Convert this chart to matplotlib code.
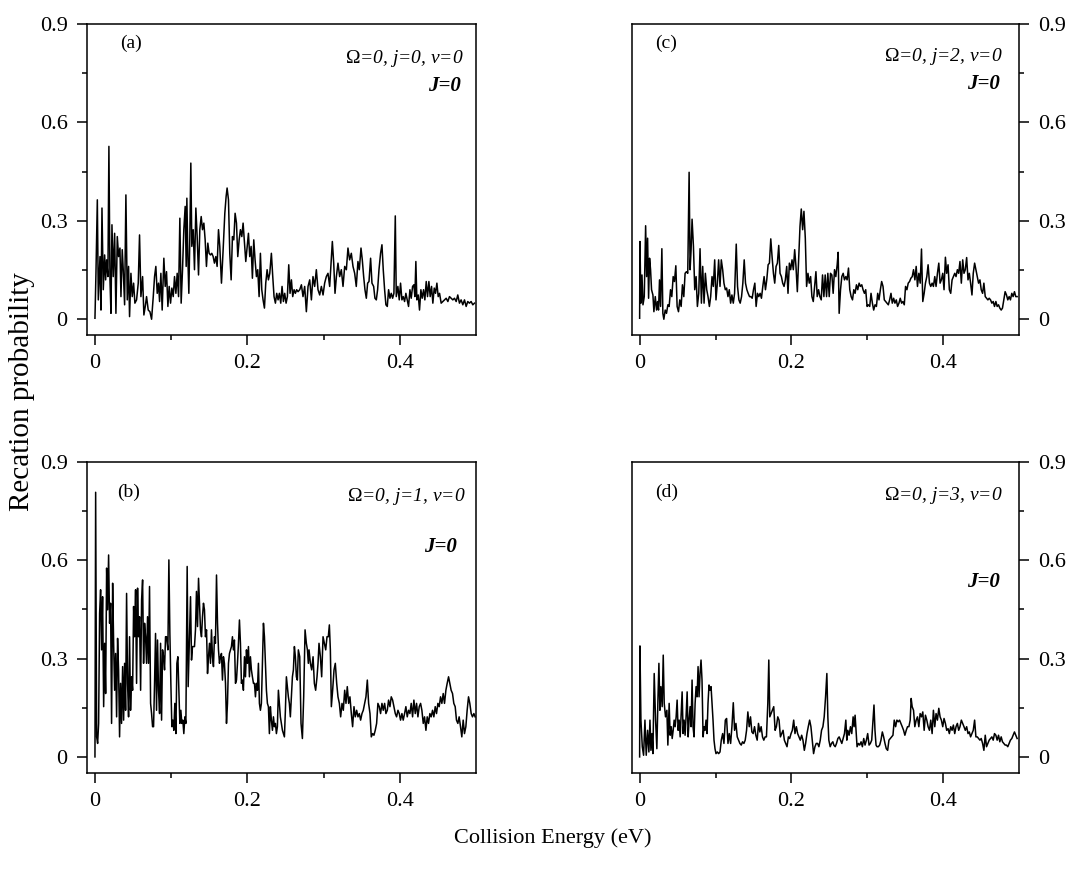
import numpy as np
import matplotlib.pyplot as plt

plt.rcParams['font.family'] = ['Liberation Serif', 'DejaVu Serif']
plt.rcParams['mathtext.fontset'] = 'custom'
plt.rcParams['mathtext.rm'] = 'Liberation Serif'
plt.rcParams['mathtext.it'] = 'Liberation Serif:italic'

# ---- panel (a): Omega=0, j=0, v=0 ----
e_a = [0.0000, 0.0013, 0.0031, 0.0044, 0.0066, 0.0079, 0.0092, 0.0109, 0.0127, 0.0140,
       0.0153, 0.0170, 0.0183, 0.0197, 0.0210, 0.0223, 0.0240, 0.0258, 0.0275, 0.0293,
       0.0310, 0.0328, 0.0341, 0.0358, 0.0371, 0.0389, 0.0406, 0.0424, 0.0441, 0.0454,
       0.0472, 0.0489, 0.0507, 0.0524, 0.0546, 0.0568, 0.0585, 0.0603, 0.0625, 0.0642,
       0.0660, 0.0677, 0.0699, 0.0721, 0.0743, 0.0765, 0.0782, 0.0799, 0.0817, 0.0834,
       0.0848, 0.0865, 0.0882, 0.0904, 0.0922, 0.0939, 0.0957, 0.0974, 0.0992, 0.1009,
       0.1027, 0.1044, 0.1062, 0.1079, 0.1097, 0.1114, 0.1131, 0.1149, 0.1166, 0.1184,
       0.1197, 0.1206, 0.1219, 0.1232, 0.1245, 0.1258, 0.1271, 0.1289, 0.1306, 0.1324,
       0.1341, 0.1359, 0.1376, 0.1394, 0.1411, 0.1429, 0.1446, 0.1463, 0.1481, 0.1498,
       0.1516, 0.1533, 0.1551, 0.1568, 0.1586, 0.1603, 0.1621, 0.1638, 0.1660, 0.1682,
       0.1704, 0.1721, 0.1734, 0.1752, 0.1769, 0.1787, 0.1804, 0.1822, 0.1839, 0.1857,
       0.1874, 0.1892, 0.1909, 0.1927, 0.1944, 0.1962, 0.1979, 0.1997, 0.2014, 0.2031,
       0.2049, 0.2066, 0.2084, 0.2101, 0.2119, 0.2136, 0.2154, 0.2171, 0.2189, 0.2206,
       0.2224, 0.2241, 0.2259, 0.2276, 0.2294, 0.2315, 0.2333, 0.2350, 0.2368, 0.2385,
       0.2403, 0.2420, 0.2438, 0.2455, 0.2473, 0.2490, 0.2508, 0.2525, 0.2543, 0.2560,
       0.2578, 0.2595, 0.2613, 0.2630, 0.2647, 0.2665, 0.2687, 0.2709, 0.2730, 0.2752,
       0.2774, 0.2796, 0.2818, 0.2840, 0.2861, 0.2883, 0.2905, 0.2927, 0.2949, 0.2971,
       0.2993, 0.3014, 0.3036, 0.3058, 0.3080, 0.3098, 0.3115, 0.3133, 0.3150, 0.3168,
       0.3189, 0.3211, 0.3233, 0.3255, 0.3277, 0.3299, 0.3320, 0.3342, 0.3364, 0.3386,
       0.3408, 0.3429, 0.3451, 0.3469, 0.3491, 0.3508, 0.3526, 0.3543, 0.3561, 0.3578,
       0.3596, 0.3617, 0.3635, 0.3657, 0.3674, 0.3692, 0.3709, 0.3727, 0.3748, 0.3766,
       0.3783, 0.3801, 0.3818, 0.3836, 0.3853, 0.3871, 0.3888, 0.3906, 0.3923, 0.3941,
       0.3954, 0.3975, 0.3993, 0.4010, 0.4028, 0.4045, 0.4063, 0.4080, 0.4098, 0.4115,
       0.4133, 0.4150, 0.4168, 0.4185, 0.4198, 0.4211, 0.4224, 0.4242, 0.4259, 0.4277,
       0.4294, 0.4312, 0.4329, 0.4347, 0.4364, 0.4382, 0.4399, 0.4417, 0.4434, 0.4452,
       0.4469, 0.4487, 0.4504, 0.4522, 0.4543, 0.4565, 0.4587, 0.4609, 0.4631, 0.4652,
       0.4674, 0.4696, 0.4718, 0.4740, 0.4761, 0.4783, 0.4805, 0.4827, 0.4849, 0.4871,
       0.4892, 0.4914, 0.4936, 0.4958, 0.4980]
p_a = [0.003, 0.140, 0.364, 0.059, 0.191, 0.028, 0.339, 0.090, 0.196, 0.120,
       0.181, 0.130, 0.527, 0.120, 0.018, 0.288, 0.130, 0.262, 0.018, 0.252,
       0.191, 0.217, 0.069, 0.212, 0.151, 0.044, 0.379, 0.059, 0.161, 0.008,
       0.140, 0.069, 0.110, 0.049, 0.059, 0.110, 0.257, 0.069, 0.130, 0.013,
       0.039, 0.069, 0.028, 0.023, 0.000, 0.069, 0.130, 0.161, 0.079, 0.110,
       0.054, 0.140, 0.028, 0.186, 0.100, 0.145, 0.039, 0.100, 0.049, 0.095,
       0.069, 0.130, 0.079, 0.140, 0.069, 0.308, 0.049, 0.151, 0.273, 0.344,
       0.161, 0.369, 0.191, 0.079, 0.252, 0.476, 0.222, 0.273, 0.151, 0.339,
       0.252, 0.135, 0.273, 0.313, 0.273, 0.293, 0.242, 0.161, 0.232, 0.201,
       0.196, 0.201, 0.191, 0.171, 0.191, 0.161, 0.273, 0.222, 0.110, 0.212,
       0.323, 0.374, 0.400, 0.364, 0.201, 0.120, 0.252, 0.242, 0.323, 0.293,
       0.191, 0.242, 0.273, 0.252, 0.293, 0.232, 0.176, 0.222, 0.262, 0.191,
       0.222, 0.125, 0.242, 0.181, 0.130, 0.151, 0.069, 0.201, 0.090, 0.059,
       0.034, 0.110, 0.151, 0.120, 0.140, 0.201, 0.130, 0.069, 0.049, 0.079,
       0.059, 0.079, 0.049, 0.100, 0.054, 0.079, 0.049, 0.069, 0.166, 0.079,
       0.120, 0.069, 0.090, 0.079, 0.090, 0.084, 0.090, 0.105, 0.069, 0.100,
       0.023, 0.100, 0.120, 0.059, 0.130, 0.100, 0.151, 0.090, 0.074, 0.100,
       0.074, 0.110, 0.130, 0.140, 0.100, 0.171, 0.237, 0.171, 0.079, 0.130,
       0.171, 0.130, 0.151, 0.100, 0.161, 0.151, 0.217, 0.181, 0.201, 0.161,
       0.140, 0.100, 0.176, 0.151, 0.217, 0.181, 0.130, 0.090, 0.064, 0.110,
       0.115, 0.186, 0.110, 0.100, 0.064, 0.059, 0.090, 0.151, 0.201, 0.227,
       0.151, 0.090, 0.044, 0.039, 0.090, 0.064, 0.079, 0.064, 0.079, 0.315,
       0.069, 0.100, 0.059, 0.110, 0.059, 0.069, 0.054, 0.079, 0.059, 0.039,
       0.090, 0.064, 0.100, 0.105, 0.069, 0.176, 0.059, 0.074, 0.028, 0.090,
       0.064, 0.090, 0.059, 0.115, 0.069, 0.115, 0.069, 0.100, 0.049, 0.095,
       0.079, 0.110, 0.069, 0.079, 0.049, 0.054, 0.059, 0.064, 0.054, 0.069,
       0.064, 0.059, 0.064, 0.054, 0.074, 0.049, 0.059, 0.044, 0.059, 0.039,
       0.054, 0.049, 0.054, 0.044, 0.049]

# ---- panel (b): Omega=0, j=1, v=0 ----
e_b = [0.0000, 0.0009, 0.0022, 0.0035, 0.0048, 0.0061, 0.0074, 0.0087, 0.0100, 0.0114,
       0.0127, 0.0140, 0.0153, 0.0166, 0.0179, 0.0192, 0.0205, 0.0218, 0.0232, 0.0245,
       0.0258, 0.0271, 0.0284, 0.0297, 0.0310, 0.0323, 0.0336, 0.0349, 0.0363, 0.0376,
       0.0389, 0.0402, 0.0415, 0.0428, 0.0441, 0.0454, 0.0467, 0.0481, 0.0494, 0.0507,
       0.0520, 0.0533, 0.0546, 0.0559, 0.0572, 0.0585, 0.0599, 0.0612, 0.0625, 0.0638,
       0.0651, 0.0664, 0.0677, 0.0690, 0.0703, 0.0716, 0.0730, 0.0743, 0.0756, 0.0769,
       0.0782, 0.0795, 0.0808, 0.0821, 0.0834, 0.0848, 0.0861, 0.0874, 0.0887, 0.0900,
       0.0913, 0.0926, 0.0939, 0.0957, 0.0970, 0.0983, 0.0996, 0.1009, 0.1022, 0.1035,
       0.1048, 0.1062, 0.1075, 0.1088, 0.1101, 0.1114, 0.1127, 0.1140, 0.1153, 0.1166,
       0.1180, 0.1193, 0.1210, 0.1223, 0.1236, 0.1254, 0.1267, 0.1280, 0.1293, 0.1306,
       0.1319, 0.1332, 0.1346, 0.1359, 0.1372, 0.1385, 0.1398, 0.1411, 0.1424, 0.1437,
       0.1450, 0.1464, 0.1477, 0.1490, 0.1503, 0.1516, 0.1529, 0.1542, 0.1555, 0.1568,
       0.1581, 0.1595, 0.1608, 0.1621, 0.1634, 0.1647, 0.1660, 0.1673, 0.1686, 0.1699,
       0.1713, 0.1726, 0.1739, 0.1752, 0.1765, 0.1778, 0.1791, 0.1804, 0.1817, 0.1830,
       0.1844, 0.1857, 0.1870, 0.1883, 0.1896, 0.1909, 0.1922, 0.1935, 0.1948, 0.1962,
       0.1975, 0.1988, 0.2001, 0.2014, 0.2027, 0.2040, 0.2053, 0.2066, 0.2080, 0.2093,
       0.2106, 0.2119, 0.2132, 0.2145, 0.2158, 0.2171, 0.2184, 0.2197, 0.2211, 0.2224,
       0.2237, 0.2250, 0.2263, 0.2276, 0.2289, 0.2302, 0.2315, 0.2329, 0.2342, 0.2355,
       0.2368, 0.2381, 0.2394, 0.2407, 0.2420, 0.2433, 0.2446, 0.2460, 0.2473, 0.2486,
       0.2499, 0.2512, 0.2525, 0.2538, 0.2551, 0.2564, 0.2578, 0.2591, 0.2604, 0.2617,
       0.2630, 0.2643, 0.2656, 0.2669, 0.2687, 0.2704, 0.2722, 0.2739, 0.2757, 0.2774,
       0.2788, 0.2800, 0.2809, 0.2827, 0.2844, 0.2862, 0.2879, 0.2896, 0.2914, 0.2927,
       0.2940, 0.2958, 0.2975, 0.2993, 0.3010, 0.3028, 0.3045, 0.3062, 0.3076, 0.3089,
       0.3102, 0.3119, 0.3137, 0.3154, 0.3172, 0.3189, 0.3207, 0.3224, 0.3242, 0.3259,
       0.3277, 0.3294, 0.3311, 0.3329, 0.3346, 0.3364, 0.3381, 0.3399, 0.3416, 0.3434,
       0.3451, 0.3469, 0.3486, 0.3504, 0.3521, 0.3539, 0.3556, 0.3574, 0.3591, 0.3609,
       0.3626, 0.3644, 0.3661, 0.3678, 0.3696, 0.3713, 0.3731, 0.3748, 0.3766, 0.3783,
       0.3801, 0.3818, 0.3836, 0.3853, 0.3871, 0.3888, 0.3906, 0.3923, 0.3941, 0.3958,
       0.3976, 0.3993, 0.4010, 0.4028, 0.4045, 0.4063, 0.4080, 0.4098, 0.4115, 0.4133,
       0.4150, 0.4168, 0.4185, 0.4203, 0.4220, 0.4238, 0.4255, 0.4273, 0.4290, 0.4308,
       0.4325, 0.4343, 0.4360, 0.4377, 0.4395, 0.4412, 0.4430, 0.4447, 0.4465, 0.4482,
       0.4500, 0.4517, 0.4535, 0.4552, 0.4570, 0.4587, 0.4605, 0.4622, 0.4640, 0.4657,
       0.4674, 0.4692, 0.4709, 0.4727, 0.4744, 0.4762, 0.4779, 0.4797, 0.4814, 0.4832,
       0.4849, 0.4867, 0.4884, 0.4902, 0.4919, 0.4937, 0.4954, 0.4972, 0.4989]
p_b = [0.001, 0.807, 0.062, 0.042, 0.103, 0.438, 0.510, 0.327, 0.489, 0.154,
       0.347, 0.194, 0.576, 0.449, 0.616, 0.408, 0.469, 0.103, 0.530, 0.347,
       0.204, 0.316, 0.123, 0.362, 0.266, 0.062, 0.225, 0.103, 0.276, 0.113,
       0.286, 0.143, 0.499, 0.225, 0.123, 0.367, 0.143, 0.245, 0.204, 0.459,
       0.367, 0.510, 0.225, 0.515, 0.367, 0.428, 0.204, 0.479, 0.540, 0.286,
       0.408, 0.367, 0.286, 0.428, 0.286, 0.520, 0.164, 0.133, 0.093, 0.093,
       0.225, 0.377, 0.143, 0.357, 0.204, 0.133, 0.347, 0.113, 0.327, 0.306,
       0.266, 0.367, 0.367, 0.327, 0.601, 0.377, 0.225, 0.093, 0.113, 0.082,
       0.164, 0.072, 0.286, 0.306, 0.204, 0.103, 0.143, 0.103, 0.113, 0.072,
       0.123, 0.103, 0.581, 0.215, 0.327, 0.489, 0.296, 0.337, 0.337, 0.337,
       0.388, 0.505, 0.398, 0.545, 0.469, 0.388, 0.367, 0.428, 0.469, 0.449,
       0.367, 0.388, 0.255, 0.306, 0.347, 0.286, 0.388, 0.306, 0.276, 0.367,
       0.347, 0.555, 0.408, 0.327, 0.286, 0.306, 0.316, 0.235, 0.306, 0.286,
       0.225, 0.103, 0.164, 0.286, 0.316, 0.327, 0.337, 0.367, 0.327, 0.357,
       0.225, 0.235, 0.286, 0.347, 0.418, 0.347, 0.225, 0.235, 0.204, 0.306,
       0.245, 0.327, 0.286, 0.337, 0.245, 0.306, 0.266, 0.245, 0.225, 0.225,
       0.184, 0.225, 0.204, 0.286, 0.164, 0.143, 0.164, 0.276, 0.408, 0.367,
       0.286, 0.204, 0.164, 0.154, 0.072, 0.154, 0.113, 0.082, 0.123, 0.093,
       0.103, 0.072, 0.093, 0.204, 0.164, 0.123, 0.103, 0.082, 0.072, 0.062,
       0.143, 0.245, 0.215, 0.184, 0.164, 0.123, 0.184, 0.245, 0.266, 0.337,
       0.306, 0.245, 0.235, 0.327, 0.306, 0.103, 0.057, 0.184, 0.388, 0.347,
       0.327, 0.286, 0.327, 0.286, 0.266, 0.306, 0.225, 0.204, 0.245, 0.286,
       0.347, 0.306, 0.245, 0.367, 0.347, 0.327, 0.367, 0.367, 0.403, 0.327,
       0.154, 0.204, 0.266, 0.286, 0.225, 0.184, 0.164, 0.123, 0.164, 0.143,
       0.204, 0.164, 0.215, 0.164, 0.184, 0.133, 0.093, 0.154, 0.123, 0.143,
       0.123, 0.133, 0.113, 0.133, 0.143, 0.164, 0.184, 0.235, 0.164, 0.133,
       0.062, 0.072, 0.067, 0.082, 0.103, 0.164, 0.154, 0.133, 0.164, 0.143,
       0.164, 0.133, 0.143, 0.174, 0.154, 0.184, 0.174, 0.154, 0.133, 0.123,
       0.143, 0.133, 0.113, 0.133, 0.113, 0.133, 0.154, 0.123, 0.143, 0.133,
       0.164, 0.123, 0.174, 0.133, 0.164, 0.123, 0.154, 0.164, 0.143, 0.103,
       0.123, 0.082, 0.123, 0.103, 0.133, 0.123, 0.143, 0.123, 0.154, 0.133,
       0.164, 0.154, 0.184, 0.164, 0.194, 0.164, 0.204, 0.225, 0.245, 0.225,
       0.204, 0.194, 0.164, 0.154, 0.113, 0.103, 0.123, 0.093, 0.062, 0.113,
       0.072, 0.093, 0.143, 0.184, 0.164, 0.133, 0.123, 0.133, 0.123]

# ---- panel (c): Omega=0, j=2, v=0 ----
e_c = [0.0000, 0.0004, 0.0017, 0.0031, 0.0044, 0.0061, 0.0079, 0.0092, 0.0105, 0.0118,
       0.0131, 0.0144, 0.0157, 0.0175, 0.0188, 0.0206, 0.0223, 0.0236, 0.0249, 0.0262,
       0.0276, 0.0293, 0.0306, 0.0319, 0.0337, 0.0354, 0.0372, 0.0389, 0.0407, 0.0424,
       0.0442, 0.0459, 0.0477, 0.0494, 0.0512, 0.0529, 0.0547, 0.0564, 0.0582, 0.0599,
       0.0617, 0.0634, 0.0652, 0.0665, 0.0678, 0.0691, 0.0709, 0.0726, 0.0744, 0.0761,
       0.0779, 0.0796, 0.0814, 0.0831, 0.0849, 0.0866, 0.0884, 0.0901, 0.0919, 0.0936,
       0.0954, 0.0971, 0.0989, 0.1006, 0.1024, 0.1041, 0.1059, 0.1076, 0.1094, 0.1111,
       0.1129, 0.1146, 0.1164, 0.1181, 0.1199, 0.1216, 0.1234, 0.1251, 0.1273, 0.1290,
       0.1308, 0.1325, 0.1343, 0.1360, 0.1378, 0.1395, 0.1413, 0.1430, 0.1448, 0.1465,
       0.1483, 0.1500, 0.1518, 0.1535, 0.1553, 0.1570, 0.1588, 0.1605, 0.1623, 0.1640,
       0.1658, 0.1675, 0.1693, 0.1710, 0.1728, 0.1745, 0.1763, 0.1780, 0.1798, 0.1815,
       0.1833, 0.1850, 0.1868, 0.1885, 0.1903, 0.1920, 0.1938, 0.1955, 0.1973, 0.1990,
       0.2008, 0.2025, 0.2043, 0.2060, 0.2078, 0.2095, 0.2113, 0.2130, 0.2148, 0.2165,
       0.2183, 0.2200, 0.2218, 0.2235, 0.2253, 0.2270, 0.2288, 0.2305, 0.2323, 0.2340,
       0.2358, 0.2375, 0.2393, 0.2410, 0.2428, 0.2445, 0.2463, 0.2480, 0.2498, 0.2515,
       0.2533, 0.2550, 0.2568, 0.2585, 0.2603, 0.2616, 0.2629, 0.2647, 0.2664, 0.2682,
       0.2699, 0.2717, 0.2734, 0.2752, 0.2769, 0.2787, 0.2805, 0.2822, 0.2839, 0.2857,
       0.2874, 0.2892, 0.2909, 0.2927, 0.2944, 0.2962, 0.2979, 0.2997, 0.3014, 0.3032,
       0.3049, 0.3067, 0.3084, 0.3102, 0.3120, 0.3137, 0.3154, 0.3172, 0.3189, 0.3207,
       0.3224, 0.3242, 0.3259, 0.3277, 0.3294, 0.3312, 0.3329, 0.3347, 0.3364, 0.3382,
       0.3399, 0.3417, 0.3434, 0.3452, 0.3469, 0.3487, 0.3504, 0.3522, 0.3539, 0.3557,
       0.3574, 0.3592, 0.3609, 0.3627, 0.3644, 0.3661, 0.3679, 0.3697, 0.3714, 0.3731,
       0.3749, 0.3766, 0.3784, 0.3801, 0.3819, 0.3836, 0.3854, 0.3871, 0.3889, 0.3906,
       0.3924, 0.3942, 0.3959, 0.3976, 0.3994, 0.4011, 0.4029, 0.4046, 0.4064, 0.4081,
       0.4099, 0.4117, 0.4134, 0.4152, 0.4169, 0.4187, 0.4204, 0.4221, 0.4239, 0.4257,
       0.4274, 0.4291, 0.4309, 0.4327, 0.4344, 0.4361, 0.4379, 0.4396, 0.4414, 0.4431,
       0.4449, 0.4466, 0.4484, 0.4501, 0.4519, 0.4536, 0.4554, 0.4571, 0.4589, 0.4606,
       0.4624, 0.4641, 0.4659, 0.4676, 0.4694, 0.4711, 0.4729, 0.4746, 0.4764, 0.4781,
       0.4799, 0.4816, 0.4834, 0.4851, 0.4869, 0.4886, 0.4904, 0.4921, 0.4939, 0.4956,
       0.4974]
p_c = [0.003, 0.237, 0.049, 0.135, 0.044, 0.069, 0.285, 0.130, 0.247, 0.064,
       0.186, 0.151, 0.090, 0.074, 0.023, 0.069, 0.028, 0.054, 0.028, 0.120,
       0.039, 0.215, 0.018, 0.000, 0.028, 0.018, 0.044, 0.039, 0.090, 0.069,
       0.130, 0.115, 0.163, 0.039, 0.023, 0.059, 0.039, 0.105, 0.069, 0.140,
       0.145, 0.140, 0.448, 0.151, 0.212, 0.305, 0.222, 0.090, 0.130, 0.039,
       0.079, 0.215, 0.049, 0.161, 0.049, 0.140, 0.090, 0.069, 0.039, 0.069,
       0.130, 0.100, 0.181, 0.059, 0.110, 0.181, 0.100, 0.181, 0.151, 0.110,
       0.090, 0.095, 0.069, 0.090, 0.049, 0.074, 0.049, 0.079, 0.229, 0.100,
       0.059, 0.049, 0.069, 0.110, 0.181, 0.110, 0.090, 0.079, 0.069, 0.069,
       0.064, 0.090, 0.110, 0.039, 0.079, 0.069, 0.079, 0.064, 0.100, 0.130,
       0.090, 0.120, 0.166, 0.171, 0.245, 0.191, 0.140, 0.110, 0.161, 0.171,
       0.225, 0.140, 0.130, 0.110, 0.100, 0.120, 0.161, 0.079, 0.171, 0.151,
       0.181, 0.151, 0.212, 0.161, 0.084, 0.181, 0.283, 0.336, 0.273, 0.329,
       0.247, 0.100, 0.140, 0.110, 0.130, 0.069, 0.054, 0.100, 0.145, 0.069,
       0.090, 0.069, 0.059, 0.135, 0.069, 0.135, 0.069, 0.140, 0.069, 0.140,
       0.135, 0.079, 0.151, 0.130, 0.166, 0.204, 0.018, 0.090, 0.130, 0.140,
       0.120, 0.130, 0.120, 0.156, 0.090, 0.069, 0.059, 0.090, 0.079, 0.105,
       0.090, 0.110, 0.100, 0.105, 0.090, 0.079, 0.090, 0.039, 0.044, 0.039,
       0.079, 0.049, 0.028, 0.044, 0.039, 0.079, 0.059, 0.090, 0.115, 0.100,
       0.059, 0.054, 0.049, 0.044, 0.059, 0.079, 0.049, 0.064, 0.049, 0.059,
       0.039, 0.049, 0.064, 0.049, 0.054, 0.044, 0.100, 0.090, 0.110, 0.115,
       0.125, 0.130, 0.151, 0.120, 0.161, 0.100, 0.140, 0.110, 0.214, 0.054,
       0.079, 0.110, 0.130, 0.166, 0.110, 0.100, 0.110, 0.100, 0.130, 0.100,
       0.140, 0.171, 0.110, 0.120, 0.140, 0.090, 0.189, 0.140, 0.166, 0.090,
       0.079, 0.120, 0.130, 0.140, 0.130, 0.151, 0.140, 0.176, 0.110, 0.181,
       0.140, 0.151, 0.188, 0.120, 0.140, 0.110, 0.074, 0.140, 0.171, 0.151,
       0.130, 0.110, 0.120, 0.090, 0.079, 0.110, 0.069, 0.064, 0.059, 0.064,
       0.059, 0.049, 0.054, 0.039, 0.054, 0.039, 0.044, 0.034, 0.028, 0.034,
       0.059, 0.084, 0.074, 0.059, 0.069, 0.059, 0.079, 0.069, 0.084, 0.069,
       0.069]

# ---- panel (d): Omega=0, j=3, v=0 ----
e_d = [0.0000, 0.0004, 0.0017, 0.0035, 0.0052, 0.0070, 0.0087, 0.0105, 0.0122, 0.0136,
       0.0149, 0.0162, 0.0175, 0.0192, 0.0210, 0.0227, 0.0241, 0.0254, 0.0267, 0.0280,
       0.0297, 0.0311, 0.0324, 0.0341, 0.0359, 0.0372, 0.0389, 0.0402, 0.0416, 0.0429,
       0.0442, 0.0455, 0.0468, 0.0481, 0.0494, 0.0507, 0.0521, 0.0534, 0.0547, 0.0560,
       0.0573, 0.0586, 0.0599, 0.0612, 0.0626, 0.0639, 0.0652, 0.0665, 0.0678, 0.0691,
       0.0704, 0.0717, 0.0731, 0.0744, 0.0757, 0.0770, 0.0783, 0.0796, 0.0809, 0.0822,
       0.0836, 0.0849, 0.0862, 0.0875, 0.0888, 0.0901, 0.0914, 0.0927, 0.0941, 0.0954,
       0.0967, 0.0980, 0.0993, 0.1006, 0.1024, 0.1041, 0.1059, 0.1076, 0.1094, 0.1111,
       0.1129, 0.1146, 0.1164, 0.1181, 0.1199, 0.1216, 0.1234, 0.1251, 0.1269, 0.1286,
       0.1304, 0.1321, 0.1339, 0.1356, 0.1374, 0.1391, 0.1409, 0.1426, 0.1444, 0.1461,
       0.1479, 0.1496, 0.1514, 0.1531, 0.1549, 0.1566, 0.1584, 0.1601, 0.1619, 0.1636,
       0.1654, 0.1671, 0.1689, 0.1702, 0.1715, 0.1732, 0.1750, 0.1767, 0.1785, 0.1802,
       0.1820, 0.1837, 0.1855, 0.1872, 0.1890, 0.1907, 0.1925, 0.1942, 0.1960, 0.1977,
       0.1995, 0.2012, 0.2030, 0.2047, 0.2065, 0.2082, 0.2100, 0.2117, 0.2135, 0.2152,
       0.2170, 0.2187, 0.2205, 0.2222, 0.2240, 0.2257, 0.2275, 0.2292, 0.2310, 0.2327,
       0.2345, 0.2362, 0.2380, 0.2397, 0.2415, 0.2432, 0.2450, 0.2467, 0.2480, 0.2493,
       0.2511, 0.2528, 0.2546, 0.2559, 0.2577, 0.2594, 0.2612, 0.2629, 0.2647, 0.2664,
       0.2682, 0.2699, 0.2717, 0.2730, 0.2743, 0.2760, 0.2778, 0.2795, 0.2813, 0.2826,
       0.2839, 0.2852, 0.2865, 0.2883, 0.2900, 0.2918, 0.2935, 0.2953, 0.2970, 0.2988,
       0.3005, 0.3023, 0.3040, 0.3058, 0.3075, 0.3088, 0.3101, 0.3115, 0.3128, 0.3145,
       0.3163, 0.3180, 0.3198, 0.3215, 0.3233, 0.3250, 0.3268, 0.3285, 0.3303, 0.3320,
       0.3338, 0.3355, 0.3373, 0.3390, 0.3408, 0.3425, 0.3443, 0.3460, 0.3478, 0.3495,
       0.3513, 0.3530, 0.3548, 0.3565, 0.3578, 0.3591, 0.3609, 0.3626, 0.3644, 0.3661,
       0.3679, 0.3696, 0.3714, 0.3731, 0.3749, 0.3766, 0.3784, 0.3801, 0.3819, 0.3836,
       0.3854, 0.3871, 0.3889, 0.3906, 0.3924, 0.3942, 0.3959, 0.3976, 0.3994, 0.4011,
       0.4029, 0.4046, 0.4064, 0.4081, 0.4099, 0.4117, 0.4134, 0.4152, 0.4169, 0.4187,
       0.4204, 0.4221, 0.4239, 0.4257, 0.4274, 0.4291, 0.4309, 0.4327, 0.4344, 0.4361,
       0.4379, 0.4396, 0.4414, 0.4431, 0.4449, 0.4466, 0.4484, 0.4501, 0.4519, 0.4536,
       0.4554, 0.4571, 0.4589, 0.4606, 0.4624, 0.4641, 0.4659, 0.4676, 0.4694, 0.4711,
       0.4729, 0.4746, 0.4764, 0.4781, 0.4799, 0.4816, 0.4834, 0.4851, 0.4869, 0.4886,
       0.4904, 0.4921, 0.4939, 0.4956, 0.4974]
p_d = [0.001, 0.339, 0.113, 0.032, 0.006, 0.113, 0.006, 0.082, 0.016, 0.113,
       0.021, 0.072, 0.011, 0.255, 0.113, 0.026, 0.174, 0.286, 0.143, 0.215,
       0.154, 0.311, 0.164, 0.123, 0.143, 0.037, 0.164, 0.067, 0.093, 0.057,
       0.082, 0.113, 0.093, 0.123, 0.174, 0.082, 0.113, 0.062, 0.133, 0.199,
       0.072, 0.113, 0.067, 0.123, 0.199, 0.062, 0.113, 0.154, 0.093, 0.235,
       0.093, 0.062, 0.164, 0.215, 0.184, 0.276, 0.184, 0.255, 0.296, 0.235,
       0.062, 0.093, 0.082, 0.113, 0.072, 0.164, 0.220, 0.204, 0.215, 0.164,
       0.113, 0.052, 0.026, 0.011, 0.016, 0.011, 0.016, 0.052, 0.072, 0.042,
       0.113, 0.118, 0.042, 0.072, 0.042, 0.093, 0.166, 0.082, 0.103, 0.062,
       0.052, 0.042, 0.037, 0.047, 0.042, 0.052, 0.082, 0.138, 0.093, 0.123,
       0.077, 0.072, 0.093, 0.067, 0.052, 0.103, 0.077, 0.093, 0.062, 0.052,
       0.062, 0.062, 0.164, 0.296, 0.123, 0.133, 0.143, 0.154, 0.082, 0.093,
       0.123, 0.113, 0.062, 0.072, 0.082, 0.052, 0.042, 0.032, 0.062, 0.057,
       0.072, 0.082, 0.113, 0.072, 0.093, 0.072, 0.062, 0.052, 0.067, 0.052,
       0.021, 0.042, 0.072, 0.093, 0.113, 0.093, 0.052, 0.011, 0.032, 0.042,
       0.042, 0.032, 0.052, 0.082, 0.093, 0.123, 0.184, 0.255, 0.123, 0.052,
       0.032, 0.042, 0.047, 0.037, 0.032, 0.042, 0.057, 0.062, 0.052, 0.042,
       0.057, 0.072, 0.113, 0.052, 0.082, 0.067, 0.093, 0.072, 0.123, 0.093,
       0.128, 0.082, 0.032, 0.042, 0.037, 0.047, 0.032, 0.057, 0.037, 0.052,
       0.072, 0.037, 0.042, 0.052, 0.113, 0.159, 0.082, 0.037, 0.032, 0.032,
       0.037, 0.052, 0.077, 0.062, 0.042, 0.026, 0.021, 0.052, 0.057, 0.062,
       0.067, 0.113, 0.093, 0.113, 0.108, 0.113, 0.103, 0.093, 0.082, 0.067,
       0.082, 0.093, 0.093, 0.113, 0.179, 0.154, 0.143, 0.093, 0.113, 0.123,
       0.093, 0.133, 0.123, 0.138, 0.082, 0.128, 0.113, 0.093, 0.082, 0.113,
       0.072, 0.143, 0.093, 0.133, 0.113, 0.149, 0.123, 0.113, 0.093, 0.118,
       0.103, 0.082, 0.087, 0.072, 0.093, 0.082, 0.098, 0.072, 0.093, 0.103,
       0.082, 0.093, 0.113, 0.103, 0.093, 0.082, 0.093, 0.072, 0.077, 0.062,
       0.072, 0.082, 0.113, 0.062, 0.062, 0.057, 0.052, 0.057, 0.042, 0.021,
       0.067, 0.032, 0.042, 0.052, 0.057, 0.062, 0.052, 0.072, 0.067, 0.052,
       0.067, 0.047, 0.062, 0.047, 0.042, 0.037, 0.037, 0.032, 0.042, 0.052,
       0.057, 0.067, 0.077, 0.067, 0.057]

panel_tags = ['(a)', '(b)', '(c)', '(d)']
panel_j = [0, 1, 2, 3]

fig = plt.figure(figsize=(10.67, 8.76), dpi=100)

# left, bottom, width, height
boxes = {
    'a': [0.0815, 0.6176, 0.3646, 0.3550],
    'b': [0.0815, 0.1176, 0.3646, 0.3553],
    'c': [0.5920, 0.6176, 0.3631, 0.3550],
    'd': [0.5920, 0.1176, 0.3631, 0.3553],
}
# text placement (axes fraction): tag x,y ; state label x,y ; J label x,y
text_pos = {
    'a': (0.085, 0.937, 0.967, 0.890, 0.962, 0.800),
    'b': (0.077, 0.903, 0.972, 0.887, 0.951, 0.726),
    'c': (0.060, 0.939, 0.956, 0.895, 0.950, 0.808),
    'd': (0.060, 0.903, 0.956, 0.893, 0.950, 0.614),
}

series = {'a': (e_a, p_a), 'b': (e_b, p_b), 'c': (e_c, p_c), 'd': (e_d, p_d)}

for k, key in enumerate(['a', 'b', 'c', 'd']):
    ax = fig.add_axes(boxes[key])
    e, p = series[key]
    ax.plot(e, p, color='black', lw=1.1)
    ax.set_xlim(-0.0105, 0.5)
    ax.set_ylim(-0.048, 0.9)
    ax.set_xticks([0, 0.2, 0.4])
    ax.set_xticklabels(['0', '0.2', '0.4'])
    ax.set_xticks([0.1, 0.3], minor=True)
    ax.set_yticks([0, 0.3, 0.6, 0.9])
    ax.set_yticklabels(['0', '0.3', '0.6', '0.9'])
    ax.set_yticks([0.15, 0.45, 0.75], minor=True)
    for s in ax.spines.values():
        s.set_linewidth(1.1)
    ax.tick_params(which='both', direction='out', width=1.1, labelsize=16)
    ax.tick_params(which='major', length=7, pad=7)
    ax.tick_params(which='minor', length=3.5)
    if key in ('c', 'd'):
        ax.yaxis.tick_right()
        ax.yaxis.set_label_position('right')

    tx, ty, sx, sy, jx, jy = text_pos[key]
    ax.text(tx, ty, panel_tags[k], transform=ax.transAxes, fontsize=14,
            ha='left', va='center')
    j = panel_j[k]
    ax.text(sx, sy, r'$\Omega$' + f'=0, j={j}, v=0', transform=ax.transAxes,
            fontsize=14, ha='right', va='center', style='italic')
    ax.text(jx, jy, 'J=0', transform=ax.transAxes, fontsize=15,
            ha='right', va='center', style='italic', weight='bold')

fig.text(0.0206, 0.553, 'Recation probability', rotation=90, fontsize=21,
         ha='center', va='center')
fig.text(0.518, 0.043, 'Collision Energy (eV)', fontsize=16,
         ha='center', va='center')

fig.savefig('out.png', dpi=100)
